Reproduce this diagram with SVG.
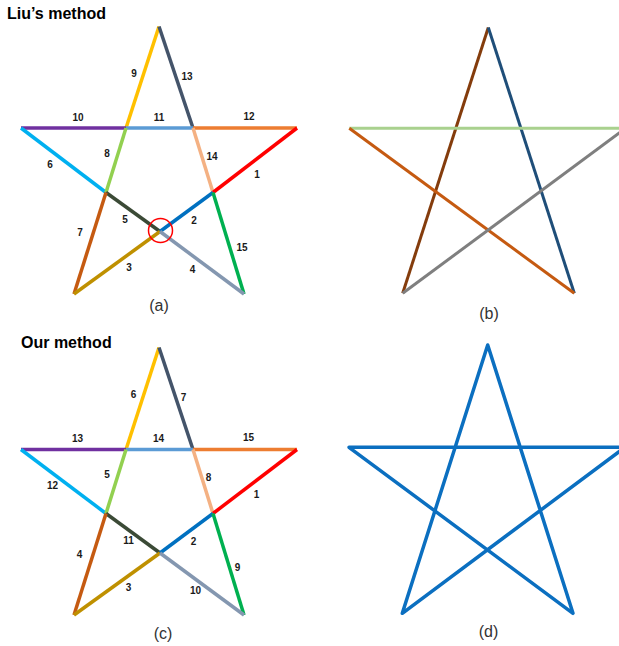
<svg xmlns="http://www.w3.org/2000/svg" width="619" height="646" viewBox="0 0 619 646">
<style>
.title{font-family:"Liberation Sans",Arial,sans-serif;font-weight:bold;font-size:16px;fill:#000}
.num{font-family:"Liberation Sans",Arial,sans-serif;font-weight:bold;font-size:10px;fill:#1a1a1a;text-anchor:middle;dominant-baseline:central}
.cap{font-family:"Liberation Sans",Arial,sans-serif;font-size:16px;fill:#333;text-anchor:middle;dominant-baseline:central}
.seg{fill:none;stroke-width:3.5;stroke-linecap:butt}
.thin{fill:none;stroke-width:3;stroke-linecap:butt}
</style>
<rect width="619" height="646" fill="#fff"/>

<g id="title-liu"><text class="title" x="7" y="19">Liu’s method</text></g>
<g id="title-our"><text class="title" x="21" y="347.5">Our method</text></g>

<g id="star-a">
  <g id="star-a-segments">
    <line class="seg" stroke="#FFC000" x1="159" y1="26.5" x2="126" y2="128"/>
    <line class="seg" stroke="#44546A" x1="159" y1="26.5" x2="193" y2="128"/>
    <line class="seg" stroke="#7030A0" x1="21" y1="128" x2="126" y2="128"/>
    <line class="seg" stroke="#5B9BD5" x1="126" y1="128" x2="193" y2="128"/>
    <line class="seg" stroke="#ED7D31" x1="193" y1="128" x2="297" y2="128"/>
    <line class="seg" stroke="#00B0F0" x1="21" y1="128" x2="106" y2="192.5"/>
    <line class="seg" stroke="#92D050" x1="126" y1="128" x2="106" y2="192.5"/>
    <line class="seg" stroke="#F4B183" x1="193" y1="128" x2="213" y2="192.5"/>
    <line class="seg" stroke="#FF0000" x1="297" y1="128" x2="213" y2="192.5"/>
    <line class="seg" stroke="#3B4A36" x1="106" y1="192.5" x2="160" y2="231.5"/>
    <line class="seg" stroke="#0070C0" x1="213" y1="192.5" x2="160" y2="231.5"/>
    <line class="seg" stroke="#C55A11" x1="106" y1="192.5" x2="74" y2="294"/>
    <line class="seg" stroke="#00B050" x1="213" y1="192.5" x2="244" y2="294"/>
    <line class="seg" stroke="#BF9000" x1="160" y1="231.5" x2="74" y2="294"/>
    <line class="seg" stroke="#8497B0" x1="160" y1="231.5" x2="244" y2="294"/>
  </g>
  <circle cx="160.5" cy="230.5" r="12" fill="none" stroke="#FF0000" stroke-width="1.5"/>
  <g id="star-a-labels">
    <text class="num" x="134" y="73">9</text>
    <text class="num" x="187" y="76">13</text>
    <text class="num" x="78" y="117">10</text>
    <text class="num" x="159" y="117">11</text>
    <text class="num" x="249" y="116">12</text>
    <text class="num" x="107" y="153">8</text>
    <text class="num" x="212" y="156">14</text>
    <text class="num" x="50" y="164">6</text>
    <text class="num" x="257" y="174">1</text>
    <text class="num" x="125" y="219">5</text>
    <text class="num" x="194" y="220">2</text>
    <text class="num" x="80" y="232">7</text>
    <text class="num" x="242" y="247">15</text>
    <text class="num" x="129" y="267">3</text>
    <text class="num" x="192.5" y="269">4</text>
  </g>
  <text class="cap" x="159" y="305">(a)</text>
</g>

<g id="star-b">
  <line class="thin" stroke="#843C0C" x1="488.3" y1="27.5" x2="402.7" y2="293.3"/>
  <line class="thin" stroke="#1F4E79" x1="488.3" y1="27.5" x2="574.3" y2="293.3"/>
  <line class="thin" stroke="#A9D18E" x1="349.3" y1="128.3" x2="625.5" y2="128.3"/>
  <line class="thin" stroke="#C55A11" x1="349.3" y1="128.3" x2="574.3" y2="293.3"/>
  <line class="thin" stroke="#7F7F7F" x1="402.7" y1="293.3" x2="625.5" y2="128.3"/>
  <text class="cap" x="489" y="313">(b)</text>
</g>

<g id="star-c">
  <g id="star-c-segments">
    <line class="seg" stroke="#FFC000" x1="159" y1="347.5" x2="126" y2="449.5"/>
    <line class="seg" stroke="#44546A" x1="159" y1="347.5" x2="193" y2="449.5"/>
    <line class="seg" stroke="#7030A0" x1="21" y1="449.5" x2="126" y2="449.5"/>
    <line class="seg" stroke="#5B9BD5" x1="126" y1="449.5" x2="193" y2="449.5"/>
    <line class="seg" stroke="#ED7D31" x1="193" y1="449.5" x2="297" y2="449.5"/>
    <line class="seg" stroke="#00B0F0" x1="21" y1="449.5" x2="106" y2="513.5"/>
    <line class="seg" stroke="#92D050" x1="126" y1="449.5" x2="106" y2="513.5"/>
    <line class="seg" stroke="#F4B183" x1="193" y1="449.5" x2="213" y2="513.5"/>
    <line class="seg" stroke="#FF0000" x1="297" y1="449.5" x2="213" y2="513.5"/>
    <line class="seg" stroke="#3B4A36" x1="106" y1="513.5" x2="160" y2="553"/>
    <line class="seg" stroke="#0070C0" x1="213" y1="513.5" x2="160" y2="553"/>
    <line class="seg" stroke="#C55A11" x1="106" y1="513.5" x2="74" y2="615"/>
    <line class="seg" stroke="#00B050" x1="213" y1="513.5" x2="244" y2="615"/>
    <line class="seg" stroke="#BF9000" x1="160" y1="553" x2="74" y2="615"/>
    <line class="seg" stroke="#8497B0" x1="160" y1="553" x2="244" y2="615"/>
  </g>
  <g id="star-c-labels">
    <text class="num" x="133.5" y="394.5">6</text>
    <text class="num" x="183.5" y="397">7</text>
    <text class="num" x="77.5" y="438">13</text>
    <text class="num" x="158.5" y="438">14</text>
    <text class="num" x="248.5" y="437">15</text>
    <text class="num" x="107" y="474.5">5</text>
    <text class="num" x="208.5" y="477.5">8</text>
    <text class="num" x="52.5" y="485.5">12</text>
    <text class="num" x="256.5" y="494.5">1</text>
    <text class="num" x="128.5" y="540.5">11</text>
    <text class="num" x="193.5" y="541">2</text>
    <text class="num" x="79.5" y="554.5">4</text>
    <text class="num" x="237.5" y="567.5">9</text>
    <text class="num" x="128.5" y="587.5">3</text>
    <text class="num" x="195.5" y="590">10</text>
  </g>
  <text class="cap" x="163" y="633">(c)</text>
</g>

<g id="star-d">
  <path d="M487.7,345 L402.3,613.3 L625,447.3 L349,447.3 L573,613.3 Z" fill="none" stroke="#0B6FC0" stroke-width="3.5" stroke-linejoin="round"/>
  <text class="cap" x="488.5" y="631.5">(d)</text>
</g>
</svg>
